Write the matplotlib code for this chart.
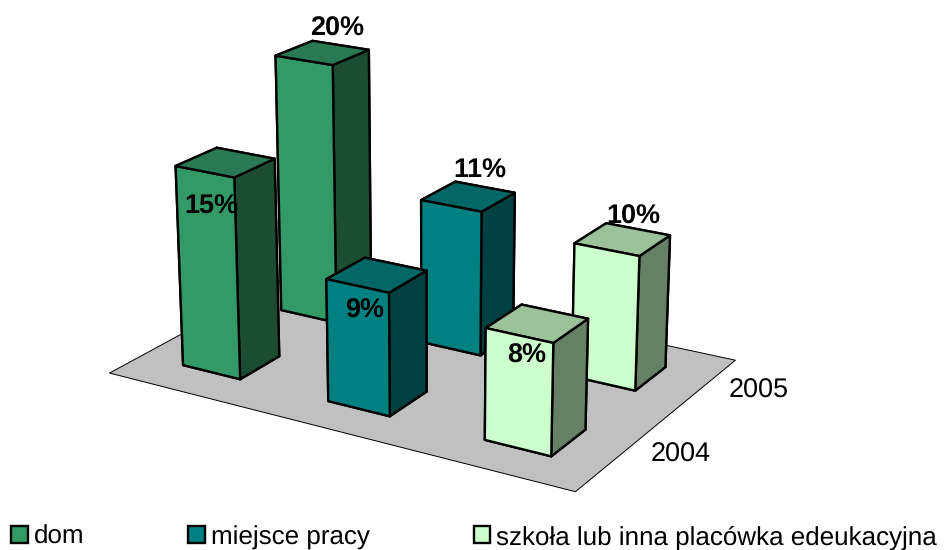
import numpy as np
import matplotlib
matplotlib.use('Agg')
import matplotlib.pyplot as plt
from matplotlib.patches import Patch
from mpl_toolkits.mplot3d.art3d import Poly3DCollection

plt.rcParams['font.family'] = ['Liberation Sans', 'DejaVu Sans']
plt.rcParams['text.hinting'] = 'no_hinting'
plt.rcParams['text.hinting_factor'] = 1

# Data
categories = ['dom', 'miejsce pracy', 'szkoła lub inna placówka edeukacyjna']
years = ['2004', '2005']
v2004 = [15, 9, 8]
v2005 = [20, 11, 10]

# Styles
front = ['#339966', '#008080', '#CCFFCC']
side = ['#1C4D33', '#004040', '#668066']
top = ['#297A52', '#006666', '#9BC29B']
FLOOR = '#C0C0C0'
FS = 19.1
LEG_FS = 19.0
BAR_W, BAR_D = 0.4019, 0.3917

# Layout
W, H = 948, 550
A = 1200
fig = plt.figure(figsize=(W / 100, H / 100), dpi=100)
ax = fig.add_axes([-192.5 / W, -267.0 / H, A / W, A / H], projection='3d', computed_zorder=False)
ax.view_init(18.8867, -59.0176, 0.0714)
ax.set_box_aspect((1, 0.6695, 0.6711), zoom=0.5949)
ax.set_proj_type('persp', focal_length=0.3584)

# Floor
xf = [0, len(categories), len(categories), 0]
yf = [0, 0, len(years), len(years)]
ax.add_collection3d(Poly3DCollection([list(zip(xf, yf, [0] * 4))], facecolor=FLOOR,
                                     edgecolor='black', linewidth=0.7, zorder=1))

# Bars: back row first, then front row
order = [(i, 1, v2005[i]) for i in range(3)] + [(i, 0, v2004[i]) for i in range(3)]
for n, (i, j, val) in enumerate(order):
    cols = [top[i], top[i], front[i], front[i], side[i], side[i]]
    ax.bar3d(i + .5 - BAR_W / 2, j + .5 - BAR_D / 2, 0, BAR_W, BAR_D, val, color=cols,
             edgecolor='black', linewidth=1.7, shade=False, zorder=2 + n)

ax.set_xlim(0, 3)
ax.set_ylim(0, 2)
ax.set_zlim(0, 25)
ax.set_axis_off()

def px(x, y):
    return x / W, 1 - y / H

# Value labels
label_pos = {(0, 0): (211, 207), (1, 0): (365, 311), (2, 0): (527, 356),
             (0, 1): (337, 29), (1, 1): (480, 171), (2, 1): (633, 217)}
for (i, j), pos in label_pos.items():
    val = (v2004 if j == 0 else v2005)[i]
    fig.text(*px(*pos), f'{val}%', fontsize=FS, fontweight='bold', ha='center', va='center', zorder=50)

# Depth axis labels
fig.text(*px(758.5, 391), years[1], fontsize=FS, ha='center', va='center')
fig.text(*px(681, 455), years[0], fontsize=FS, ha='center', va='center')

# Legend
handles = [Patch(facecolor=front[i], edgecolor='black', linewidth=1.7, label=categories[i]) for i in range(3)]
fig.legend(handles=handles, loc='lower left', bbox_to_anchor=(11 / W, 1 - 549.5 / H), ncol=3, frameon=False,
           fontsize=LEG_FS, handlelength=0.63, handleheight=0.6, handletextpad=0.22,
           columnspacing=3.95, borderpad=0, borderaxespad=0)

fig.savefig('out.png', dpi=100)
